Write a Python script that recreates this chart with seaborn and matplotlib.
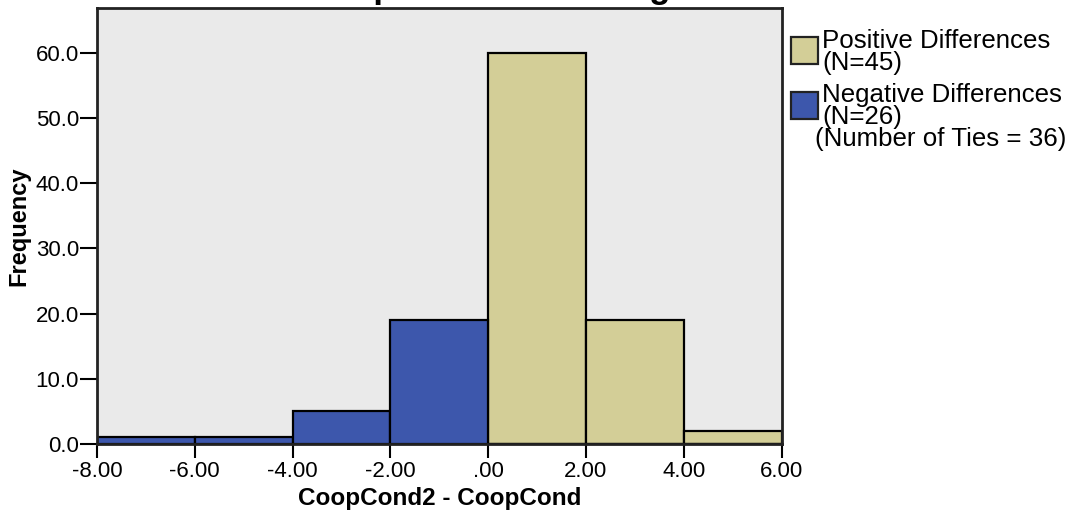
import numpy as np
import pandas as pd
import seaborn as sns
import matplotlib
matplotlib.use("Agg")
import matplotlib.pyplot as plt
from matplotlib.patches import Rectangle

# Histogram of paired differences (CoopCond2 - CoopCond)
bin_edges = [-8, -6, -4, -2, 0, 2, 4, 6]
bin_counts = [1, 1, 5, 19, 60, 19, 2]
bin_sign = ["Negative", "Negative", "Negative", "Negative", "Positive", "Positive", "Positive"]

x_ticks = [-8, -6, -4, -2, 0, 2, 4, 6]
x_tick_labels = ["-8.00", "-6.00", "-4.00", "-2.00", ".00", "2.00", "4.00", "6.00"]
y_ticks = [0, 10, 20, 30, 40, 50, 60]
y_tick_labels = ["0.0", "10.0", "20.0", "30.0", "40.0", "50.0", "60.0"]

legend_labels = ["Positive Differences\n(N=45)", "Negative Differences\n(N=26)"]
ties_label = "(Number of Ties = 36)"
title = "Related-Samples Wilcoxon Signed Rank Test"

colors = {"Positive": "#D3CE97", "Negative": "#3D57AC"}

sns.set_style("white")
plt.rcParams["font.family"] = ["Liberation Sans", "DejaVu Sans"]
plt.rcParams["text.color"] = "black"
plt.rcParams["axes.labelcolor"] = "black"
plt.rcParams["xtick.color"] = "black"
plt.rcParams["ytick.color"] = "black"

edges = np.array(bin_edges, dtype=float)
df = pd.DataFrame({
    "diff": (edges[:-1] + edges[1:]) / 2,
    "count": bin_counts,
    "sign": bin_sign,
})

fig = plt.figure(figsize=(10.79, 5.22), dpi=100)
ax = fig.add_axes([0.0899, 0.1494, 0.6344, 0.8353])
ax.set_facecolor("#EAEAEA")

sns.histplot(data=df, x="diff", weights="count", bins=bin_edges, hue="sign",
             palette=colors, multiple="layer", alpha=1, edgecolor="black",
             linewidth=1.6, legend=False, ax=ax)

ax.set_xlim(bin_edges[0], bin_edges[-1])
ax.set_ylim(0, 66.9)
ax.set_xticks(x_ticks)
ax.set_xticklabels(x_tick_labels)
ax.set_yticks(y_ticks)
ax.set_yticklabels(y_tick_labels)
ax.tick_params(axis="x", direction="out", length=10, width=1.5, color="black",
               labelsize=16, labelcolor="black", pad=2, bottom=True)
ax.tick_params(axis="y", direction="out", length=12, width=1.5, color="black",
               labelsize=16, labelcolor="black", pad=1, left=True)
for s in ax.spines.values():
    s.set_color("#222222")
    s.set_linewidth(2.0)

ax.set_xlabel("CoopCond2 - CoopCond", fontsize=17.5, fontweight="bold",
              labelpad=4, color="black")
ax.set_ylabel("Frequency", fontsize=17, fontweight="bold", labelpad=4,
              color="black")

fig.text(534 / 1079, 1 + 2.2 / 522, title, fontsize=25, fontweight="bold",
         ha="center", va="baseline", color="black")

# Legend swatches with labels
W, H = 1079.0, 522.0
sw = 27
for i, (lab, key) in enumerate(zip(legend_labels, ["Positive", "Negative"])):
    top = 37 + i * 55
    fig.add_artist(Rectangle((791 / W, 1 - (top + sw) / H), sw / W, sw / H,
                             transform=fig.transFigure, facecolor=colors[key],
                             edgecolor="#222222", linewidth=1.6))
    fig.text(822 / W, 1 - (29 + i * 54) / H, lab, fontsize=18.6, ha="left",
             va="top", linespacing=0.9, color="black")
fig.text(815 / W, 1 - 127 / H, ties_label, fontsize=18.6, ha="left", va="top",
         color="black")

fig.savefig("out.png", dpi=100)
